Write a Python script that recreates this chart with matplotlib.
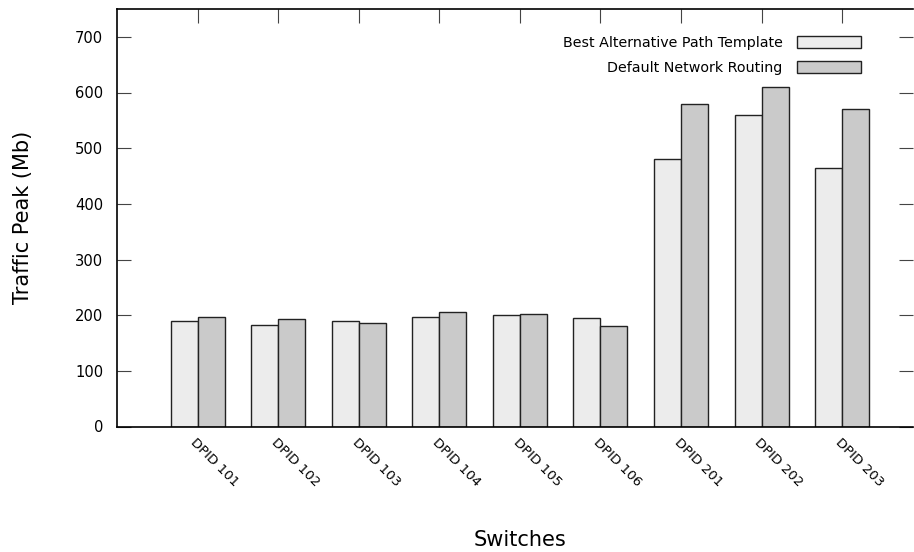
import numpy as np
import matplotlib
matplotlib.use('Agg')
import matplotlib.pyplot as plt

switches = ['DPID 101', 'DPID 102', 'DPID 103', 'DPID 104', 'DPID 105',
            'DPID 106', 'DPID 201', 'DPID 202', 'DPID 203']
best_alt = [190, 183, 190, 196, 201, 195, 480, 560, 464]
default_routing = [196, 193, 186, 206, 202, 180, 580, 610, 571]

plt.rcParams['font.family'] = 'DejaVu Sans'

fig = plt.figure(figsize=(9.14, 5.52), dpi=100)
ax = fig.add_axes([117 / 914, 1 - 426.5 / 552, 796 / 914, 417.5 / 552])

x = np.arange(len(switches))
w = 0.335
ax.bar(x - w / 2, best_alt, w, color='#ececec', edgecolor='#222222', linewidth=1,
       label='Best Alternative Path Template')
ax.bar(x + w / 2, default_routing, w, color='#cacaca', edgecolor='#222222', linewidth=1,
       label='Default Network Routing')

ax.set_xlim(-1.0, 8.88)
ax.set_ylim(0, 750)
ax.set_yticks(range(0, 701, 100))
ax.tick_params(axis='y', direction='in', length=10, left=True, right=True,
               labelsize=10.6, pad=10, color='#444444')
ax.set_xticks(x)
ax.set_xticklabels(switches, rotation=-45, ha='left', va='top', rotation_mode='anchor',
                   fontsize=9.6)
ax.tick_params(axis='x', direction='in', length=10, top=True, bottom=False, pad=7,
               color='#444444')
for s in ax.spines.values():
    s.set_linewidth(1.2)
ax.spines['right'].set_visible(False)

# axis titles placed like the gnuplot original
fig.text(23 / 914, 1 - 217 / 552, 'Traffic Peak (Mb)', rotation=90,
         ha='center', va='center', fontsize=15)
fig.text(520 / 914, 1 - 540 / 552, 'Switches', ha='center', va='center', fontsize=15)

leg = ax.legend(loc='upper right', bbox_to_anchor=(0.951, 0.966), frameon=False,
                markerfirst=False, fontsize=10.3, handlelength=4.5, handleheight=0.85,
                labelspacing=0.75, handletextpad=1.0)
for t in leg.get_texts():
    t.set_ha('right')

fig.savefig('out.png', dpi=100)
